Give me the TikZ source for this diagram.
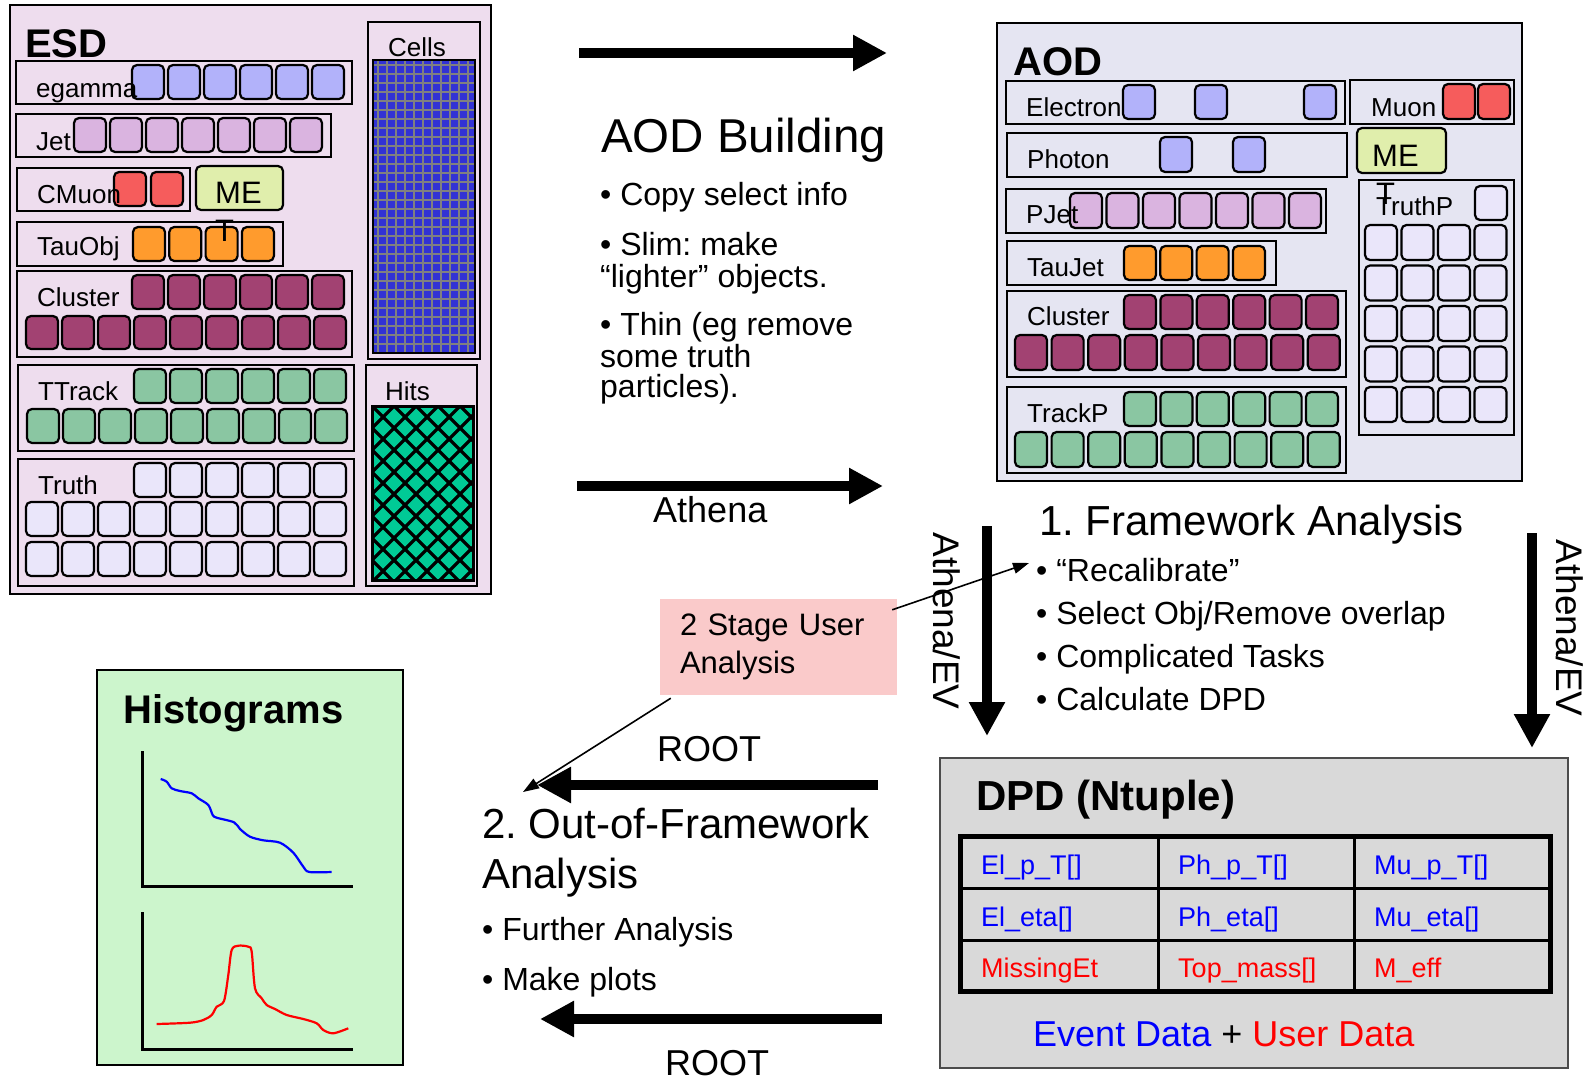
\documentclass[tikz,border=0pt]{standalone}
\usepackage{fontspec}
\setmainfont{Liberation Sans}
\usetikzlibrary{arrows.meta}
\frenchspacing

\definecolor{esdbg}{RGB}{238,221,238}
\definecolor{aodbg}{RGB}{229,229,242}
\definecolor{dpdbg}{RGB}{217,217,217}
\definecolor{histbg}{RGB}{204,245,204}
\definecolor{stagebg}{RGB}{250,202,202}
\definecolor{egam}{RGB}{178,178,250}
\definecolor{jetc}{RGB}{218,180,224}
\definecolor{muc}{RGB}{246,92,92}
\definecolor{mec}{RGB}{224,238,172}
\definecolor{tauc}{RGB}{255,155,45}
\definecolor{clusc}{RGB}{162,66,114}
\definecolor{trkc}{RGB}{138,198,162}
\definecolor{truc}{RGB}{234,230,250}
\definecolor{cellc}{RGB}{50,50,212}
\definecolor{hitc}{RGB}{0,202,150}
\definecolor{evblue}{RGB}{0,0,255}
\definecolor{usred}{RGB}{255,0,0}

\tikzset{
  row/.style={draw,line width=2pt},
  obj/.style={draw,line width=2.2pt,rounded corners=5pt},
  lbl/.style={anchor=base west,inner sep=0pt,font=\fontsize{26}{31}\selectfont},
  met/.style={anchor=base west,inner sep=0pt,font=\fontsize{31}{37}\selectfont},
  bul/.style={anchor=base west,inner sep=0pt,font=\fontsize{32}{38}\selectfont},
  mid/.style={anchor=base west,inner sep=0pt,font=\fontsize{36}{43}\selectfont},
  big/.style={anchor=base west,inner sep=0pt,font=\fontsize{42}{50}\selectfont},
  ttl/.style={anchor=base west,inner sep=0pt,font=\bfseries\fontsize{40}{48}\selectfont},
  cell/.style={anchor=base west,inner sep=0pt,font=\fontsize{27}{32}\selectfont},
  fat/.style={line width=10pt,-{Triangle[length=34pt,width=34pt]}},
  lean/.style={line width=1.6pt,-{Triangle[length=16pt,width=11pt]}},
}

\begin{document}
\begin{tikzpicture}[x=1pt,y=-1pt]
\useasboundingbox (0,0) rectangle (1588,1081);

% ESD
\draw[row,fill=esdbg] (10,5) rectangle (491,594);
\node[ttl] (esd) at (25,58) {ESD};
\draw[row] (16,61) rectangle (352,104);
\foreach \i in {0,...,5} \draw[obj,fill=egam] ({132+36*\i},65) rectangle ++(32,34);
\node[lbl] (egamma) at (36,97) {egamma};
\draw[row] (16,114) rectangle (331,157);
\foreach \i in {0,...,6} \draw[obj,fill=jetc] ({74+36*\i},118) rectangle ++(32,34);
\node[lbl] (jet) at (36,150) {Jet};
\draw[row] (17,168) rectangle (190,211);
\foreach \i in {0,1} \draw[obj,fill=muc] ({114+37*\i},172) rectangle ++(32,34);
\node[lbl] (cmuon) at (37,203) {CMuon};
\draw[obj,fill=mec] (196,166) rectangle (283,210);
\node[met] (esdme) at (215,203) {ME};
\draw[row] (17,222) rectangle (283,266);
\foreach \i in {0,...,3} \draw[obj,fill=tauc] ({133+36.3*\i},227) rectangle ++(32,34);
\node[lbl] (tauobj) at (37,255) {TauObj};
\node[met] (esdt) at (215,241) {T};
\draw[row] (17,271) rectangle (352,357);
\foreach \i in {0,...,5} \draw[obj,fill=clusc] ({132+36*\i},275) rectangle ++(32,34);
\foreach \i in {0,...,8} \draw[obj,fill=clusc] ({26+36*\i},316) rectangle ++(32,33);
\node[lbl] (esdclus) at (37,306) {Cluster};
\draw[row] (18,365) rectangle (354,451);
\foreach \i in {0,...,5} \draw[obj,fill=trkc] ({134+36*\i},369) rectangle ++(32,34);
\foreach \i in {0,...,8} \draw[obj,fill=trkc] ({27+36*\i},409) rectangle ++(32,34);
\node[lbl] (ttrack) at (38,400) {TTrack};
\draw[row] (18,459) rectangle (354,586);
\foreach \i in {0,...,5} \draw[obj,fill=truc] ({134+36*\i},463) rectangle ++(32,34);
\foreach \j in {502,542} \foreach \i in {0,...,8} \draw[obj,fill=truc] ({26+36*\i},\j) rectangle ++(32,34);
\node[lbl] (truth) at (38,494) {Truth};
\draw[row] (368,22) rectangle (480,359);
\node[lbl] (cells) at (388,57) {Cells};
\fill[cellc] (373,60) rectangle (475,353);
\foreach \x in {378,387,...,471} \draw[gray,line width=1.2pt] (\x,60) -- (\x,353);
\foreach \y in {65,74,...,350} \draw[gray,line width=1.2pt] (373,\y) -- (475,\y);
\draw[line width=2pt] (373,60) rectangle (475,353);
\draw[row] (366,365) rectangle (477,586);
\node[lbl] (hits) at (385,400) {Hits};
\begin{scope}
  \clip (372,406) rectangle (473,580);
  \fill (372,406) rectangle (473,580);
  \foreach \r in {0,...,8} \foreach \c in {0,...,5} {
    \fill[hitc] ({383+22*\c},{397.5+22*\r}) -- ++(8.5,8.5) -- ++(-8.5,8.5) -- ++(-8.5,-8.5) -- cycle;
    \fill[hitc] ({372+22*\c},{408.5+22*\r}) -- ++(8.5,8.5) -- ++(-8.5,8.5) -- ++(-8.5,-8.5) -- cycle;
  }
\end{scope}
\draw[line width=3pt] (372,406) rectangle (473,580);

% AOD
\draw[row,fill=aodbg] (997,23) rectangle (1522,481);
\node[ttl] (aod) at (1013,75) {AOD};
\draw[row] (1006,81) rectangle (1345,124);
\foreach \x in {1123,1195,1304} \draw[obj,fill=egam] (\x,85) rectangle ++(32,34);
\node[lbl] (electron) at (1026,116) {Electron};
\draw[row] (1350,80) rectangle (1514,124);
\foreach \x in {1443,1478} \draw[obj,fill=muc] (\x,84) rectangle ++(32,35);
\node[lbl] (muon) at (1371,116) {Muon};
\draw[row] (1007,133) rectangle (1347,177);
\foreach \x in {1160,1233} \draw[obj,fill=egam] (\x,137) rectangle ++(32,35);
\node[lbl] (photon) at (1027,168) {Photon};
\draw[obj,fill=mec] (1357,128) rectangle (1446,173);
\node[met] (aodme) at (1372,166) {ME};
\draw[row] (1359,180) rectangle (1514,435);
\draw[obj,fill=truc] (1475,186) rectangle ++(32,34);
\foreach \i in {0,...,3} \foreach \j in {0,...,4}
  \draw[obj,fill=truc] ({1365+36.5*\i},{225+40.5*\j}) rectangle ++(32,35);
\node[lbl] (truthp) at (1376,215) {TruthP};
\node[met] (aodt) at (1376,204) {T};
\draw[row] (1006,189) rectangle (1326,233);
\foreach \i in {0,...,6} \draw[obj,fill=jetc] ({1070+36.5*\i},193) rectangle ++(32,35);
\node[lbl] (pjet) at (1026,223) {PJet};
\draw[row] (1007,241) rectangle (1276,285);
\foreach \i in {0,...,3} \draw[obj,fill=tauc] ({1124+36.3*\i},246) rectangle ++(32,34);
\node[lbl] (taujet) at (1027,276) {TauJet};
\draw[row] (1007,291) rectangle (1346,377);
\foreach \i in {0,...,5} \draw[obj,fill=clusc] ({1124+36.4*\i},295) rectangle ++(32,34);
\foreach \i in {0,...,8} \draw[obj,fill=clusc] ({1015+36.6*\i},335) rectangle ++(32,35);
\node[lbl] (aodclus) at (1027,325) {Cluster};
\draw[row] (1007,387) rectangle (1346,473);
\foreach \i in {0,...,5} \draw[obj,fill=trkc] ({1124+36.4*\i},392) rectangle ++(32,34);
\foreach \i in {0,...,8} \draw[obj,fill=trkc] ({1015+36.6*\i},432) rectangle ++(32,35);
\node[lbl] (trackp) at (1027,422) {TrackP};

% AOD building
\coordinate (b1s) at (579,53);
\coordinate (b1e) at (887,53);
\draw[fat] (b1s) -- (b1e);
\node[anchor=base west,inner sep=0pt,font=\fontsize{47.5}{57}\selectfont] (aodb) at (601,152) {AOD Building};
\node[bul] (copy) at (600,205) {• Copy select info};
\node[bul] (slim) at (600,255) {• Slim: make};
\node[bul] (light) at (600,287) {“lighter” objects.};
\node[bul] (thin) at (600,335) {• Thin (eg remove};
\node[bul] (some) at (600,367) {some truth};
\node[bul] (part) at (600,397) {particles).};
\coordinate (b2s) at (577,486);
\coordinate (b2e) at (883,486);
\draw[fat] (b2s) -- (b2e);
\node[mid] (athena) at (653,522) {Athena};

% framework analysis
\node[big] (fwa) at (1039,535) {1. Framework Analysis};
\node[bul] (recal) at (1036,581) {• “Recalibrate”};
\node[bul] (selobj) at (1036,624) {• Select Obj/Remove overlap};
\node[bul] (tasks) at (1036,667) {• Complicated Tasks};
\node[bul] (calc) at (1036,710) {• Calculate DPD};
\coordinate (v1s) at (987,526);
\coordinate (v1e) at (987,736);
\draw[fat] (v1s) -- (v1e);
\node[rotate=-90,inner sep=0pt,font=\fontsize{37}{44}\selectfont] (evl) at (947,621) {Athena/EV};
\coordinate (v2s) at (1532,533);
\coordinate (v2e) at (1532,748);
\draw[fat] (v2s) -- (v2e);
\node[rotate=-90,inner sep=0pt,font=\fontsize{37}{44}\selectfont] (evr) at (1570,628) {Athena/EV};

% DPD
\draw[line width=1.5pt,draw=black!70,fill=dpdbg] (940,758) rectangle (1568,1068);
\node[ttl,font=\bfseries\fontsize{42}{50}\selectfont] (dpd) at (976,810) {DPD (Ntuple)};
\draw[line width=3pt] (1158,836) -- (1158,991) (1354,836) -- (1354,991)
  (960,888) -- (1550,888) (960,940) -- (1550,940);
\draw[line width=5pt] (960,836) rectangle (1550,991);
\node[cell,evblue] (elpt) at (981,874) {El\_p\_T[]};
\node[cell,evblue] (phpt) at (1178,874) {Ph\_p\_T[]};
\node[cell,evblue] (mupt) at (1374,874) {Mu\_p\_T[]};
\node[cell,evblue] (eleta) at (981,926) {El\_eta[]};
\node[cell,evblue] (pheta) at (1178,926) {Ph\_eta[]};
\node[cell,evblue] (mueta) at (1374,926) {Mu\_eta[]};
\node[cell,usred] (miss) at (981,977) {MissingEt};
\node[cell,usred] (topm) at (1178,977) {Top\_mass[]};
\node[cell,usred] (meff) at (1374,977) {M\_eff};
\node[mid] (evud) at (1033,1046) {\textcolor{evblue}{Event Data} + \textcolor{usred}{User Data}};

% out of framework
\coordinate (r1s) at (878,785);
\coordinate (r1e) at (537,785);
\draw[fat] (r1s) -- (r1e);
\node[mid] (root1) at (657,761) {ROOT};
\node[big] (oof) at (482,838) {2. Out-of-Framework};
\node[big] (oofa) at (482,888) {Analysis};
\node[bul] (further) at (482,940) {• Further Analysis};
\node[bul] (plots) at (482,990) {• Make plots};
\coordinate (r2s) at (882,1019);
\coordinate (r2e) at (540,1019);
\draw[fat] (r2s) -- (r2e);
\node[mid] (root2) at (665,1075) {ROOT};

% histograms
\draw[line width=2pt,fill=histbg] (97,670) rectangle (403,1065);
\node[ttl] (hist) at (123,723) {Histograms};
\draw[line width=3pt] (142,751) -- (142,886) -- (353,886);
\draw[line width=3pt] (142,912) -- (142,1049) -- (353,1049);
\draw[blue,line width=2.2pt] plot[smooth,tension=0.5] coordinates {(160.7,779) (166.7,781.7) (171.7,788.3)
  (180,791) (191.7,793.3) (198.3,798.3) (208.3,805) (212.7,815) (216.7,817.7) (234,822.3) (240,829)
  (250,836.7) (263.3,840.3) (280,842.7) (293.3,852.7) (303.3,866.7) (309.3,872) (331.7,872)};
\draw[red,line width=2.2pt] plot[smooth,tension=0.5] coordinates {(156.7,1024) (190,1022.7) (203.3,1020)
  (211.7,1015) (216.7,1006.7) (224,1001) (228.3,975) (231.7,950) (238.3,945.7) (248.3,946.7)
  (251.7,951.7) (255,988.3) (261.7,998.3) (266.7,1005) (275,1009) (286.7,1015) (303.3,1019)
  (316.7,1023.3) (323.3,1030) (333.3,1033.3) (348.3,1028.3)};

% two stage
\node[fill=stagebg,minimum width=237pt,minimum height=96pt,text width=197pt,inner xsep=20pt,
  align=left,font=\fontsize{31}{38}\selectfont] (stage) at (778.5,647) {2 Stage User\\Analysis};
\coordinate (tipa) at (1029,563);
\coordinate (tipb) at (523,792);
\draw[lean] ([xshift=-5pt,yshift=-11pt]stage.north east) -- (tipa);
\draw[lean] ([xshift=11pt,yshift=-3pt]stage.south west) -- (tipb);
\end{tikzpicture}
\end{document}
